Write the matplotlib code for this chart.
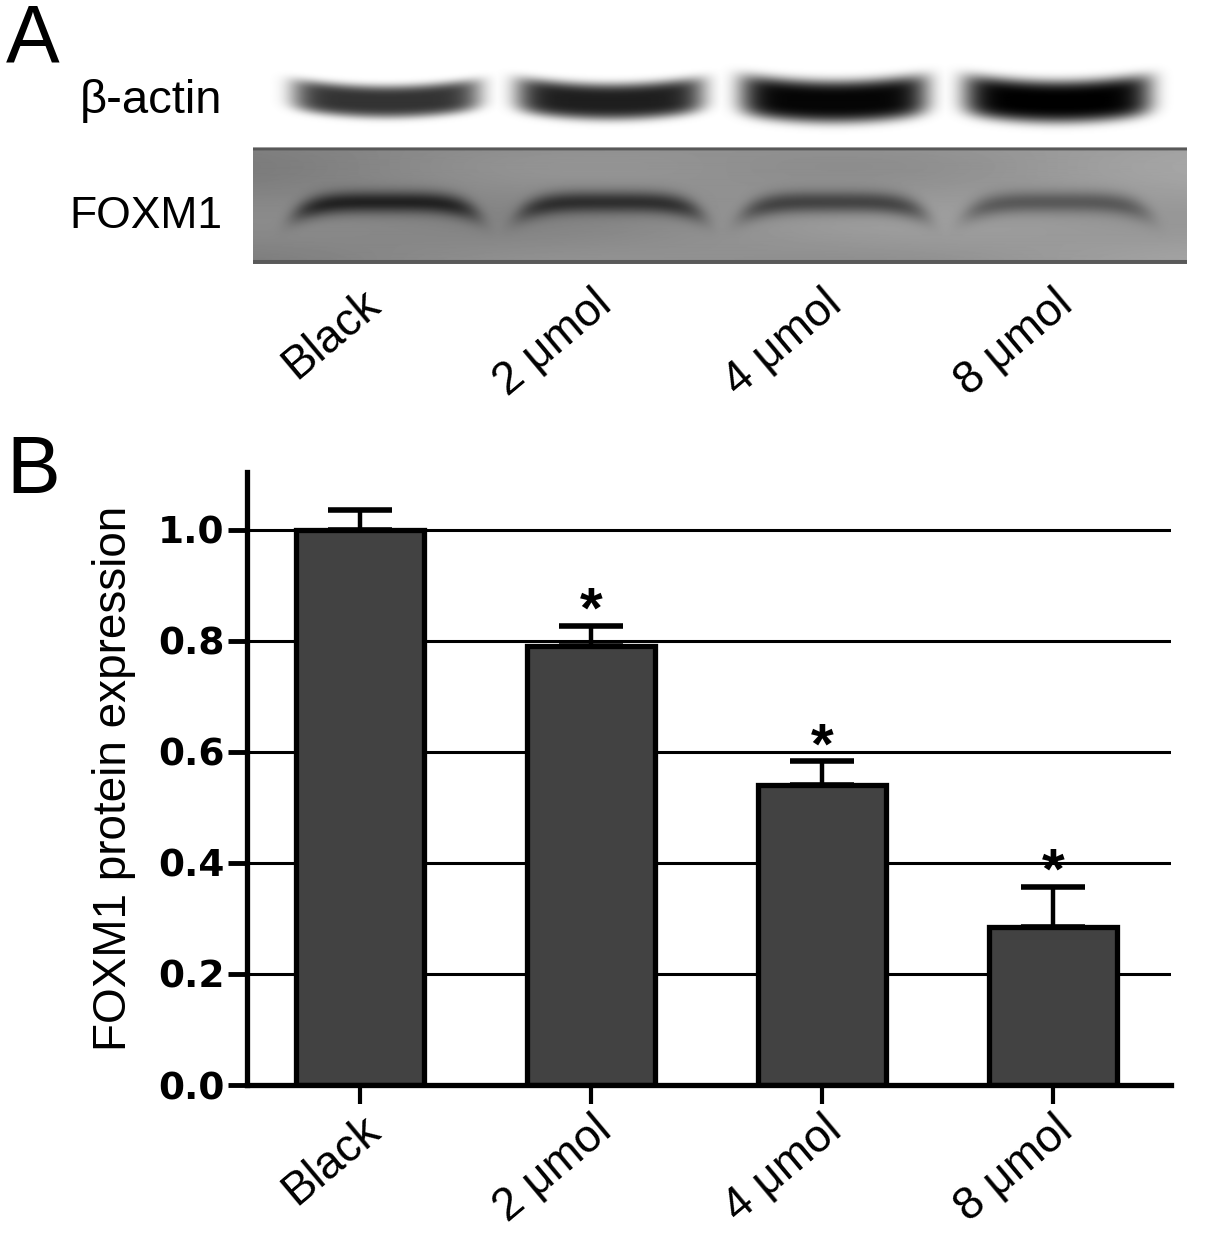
import matplotlib
matplotlib.use("Agg")
import matplotlib.pyplot as plt
import matplotlib.transforms as mtransforms
import numpy as np

plt.rcParams['font.family'] = ['Liberation Sans', 'DejaVu Sans']

# data
groups = ['Black', '2 μmol', '4 μmol', '8 μmol']
foxm1_mean = [1.00, 0.79, 0.54, 0.285]
foxm1_err = [0.035, 0.037, 0.043, 0.072]
significant = [False, True, True, True]
yticks = [0.0, 0.2, 0.4, 0.6, 0.8, 1.0]

# blot band darkness (0 = none, 1 = black)
actin_band = [0.80, 0.88, 0.98, 1.00]
actin_thick = [16, 18, 21, 21]
foxm1_band = [0.75, 0.66, 0.55, 0.42]

W, H = 1205, 1245
fig = plt.figure(figsize=(W / 100, H / 100), dpi=100)


def px_axes(x0, y0, x1, y1):
    return fig.add_axes([x0 / W, 1 - y1 / H, (x1 - x0) / W, (y1 - y0) / H])


# ---------- panel A : blot ----------
lane_lo, lane_hi = -0.594, 3.589
axA = px_axes(253, 60, 1190, 268)
ncol, nrow = 937, 208
xs = np.linspace(lane_lo, lane_hi, ncol)
ys = np.arange(nrow)
X, Y = np.meshgrid(xs, ys)

img = np.ones((nrow, ncol))
box = (Y >= 88) & (Y <= 203) & (X < 3.58)
img[box] = (0.53 + 0.025 * X[box]) + 0.03 * np.sin(X[box] * 2.1) * np.cos(Y[box] / 17.0)
edge = box & ((Y <= 90) | (Y >= 200))
img[edge] = 0.35

dark = np.zeros_like(img)
for i in range(len(groups)):
    dx = X - i
    # beta-actin band (smile shaped)
    prof_x = np.exp(-(np.abs(dx) / 0.42) ** 8)
    yc = 42 - 45 * dx ** 2
    prof_y = np.exp(-((Y - yc) / actin_thick[i]) ** 4)
    dark = np.maximum(dark, actin_band[i] * prof_x * prof_y)
    # FOXM1 band (flat, ends drooping)
    prof_x = np.exp(-(np.abs(dx) / 0.41) ** 8)
    yc = 142 + 450 * dx ** 4
    prof_y = np.exp(-((Y - yc) / 11.0) ** 2)
    dark = np.maximum(dark, foxm1_band[i] * prof_x * prof_y)

img = img * (1 - dark)
axA.imshow(img, cmap='gray', vmin=0, vmax=1, aspect='auto',
           extent=[lane_lo, lane_hi, nrow, 0], interpolation='bilinear')
axA.set_xlim(lane_lo, lane_hi)
axA.set_ylim(nrow, 0)
axA.axis('off')

# lane labels of panel A share the x scale of panel B
axA_lab = px_axes(247, 200, 1171, 268)
axA_lab.patch.set_visible(False)
for s in axA_lab.spines.values():
    s.set_visible(False)
axA_lab.set_xlim(-0.49, 3.51)
axA_lab.set_yticks([])
axA_lab.set_xticks(range(len(groups)))
axA_lab.set_xticklabels(groups, rotation=40, ha='right', va='top',
                        rotation_mode='anchor', fontsize=33)
axA_lab.tick_params(axis='x', length=0, pad=10)

fig.text(222 / W, 1 - 113 / H, 'β-actin', ha='right', va='baseline', fontsize=34)
fig.text(222 / W, 1 - 228 / H, 'FOXM1', ha='right', va='baseline', fontsize=32)
fig.text(6 / W, 1 - 62 / H, 'A', ha='left', va='baseline', fontsize=58)
fig.text(6 / W, 1 - 493 / H, 'B', ha='left', va='baseline', fontsize=58)

# ---------- panel B : bar chart ----------
axB = px_axes(247, 472, 1171, 1085)
x = np.arange(len(groups))
axB.set_axisbelow(True)
axB.yaxis.grid(True, color='black', linewidth=2.2)
axB.bar(x, foxm1_mean, width=0.555, color='#424242', edgecolor='black',
        linewidth=3.8, zorder=2)
axB.errorbar(x, foxm1_mean, yerr=[[0] * len(x), foxm1_err], fmt='none',
             ecolor='black', elinewidth=3.2, capsize=23, capthick=4, zorder=1)
for xi, m, e, sig in zip(x, foxm1_mean, foxm1_err, significant):
    if sig:
        axB.text(xi, m + e - 0.004, '*', ha='center', va='baseline',
                 fontsize=42, fontweight='bold')

axB.set_xlim(-0.49, 3.51)
axB.set_ylim(0, 1.104)
axB.set_yticks(yticks)
axB.set_yticklabels(['%.1f' % v for v in yticks], fontsize=27,
                    fontweight='bold', family=['DejaVu Sans'])
axB.set_xticks(x)
axB.set_xticklabels(groups, rotation=40, ha='right', va='top',
                    rotation_mode='anchor', fontsize=33)
shift = mtransforms.ScaledTranslation(12 / 100, 14 / 100, fig.dpi_scale_trans)
for lab in axB.get_xticklabels():
    lab.set_transform(lab.get_transform() + shift)
axB.tick_params(axis='y', length=14, width=3.5, pad=2)
axB.tick_params(axis='x', length=14, width=3, pad=2)
axB.spines['top'].set_visible(False)
axB.spines['right'].set_visible(False)
axB.spines['left'].set_linewidth(3.8)
axB.spines['bottom'].set_linewidth(3.8)
axB.set_ylabel('FOXM1 protein expression', fontsize=33, labelpad=16)

fig.savefig('out.png', dpi=100)
